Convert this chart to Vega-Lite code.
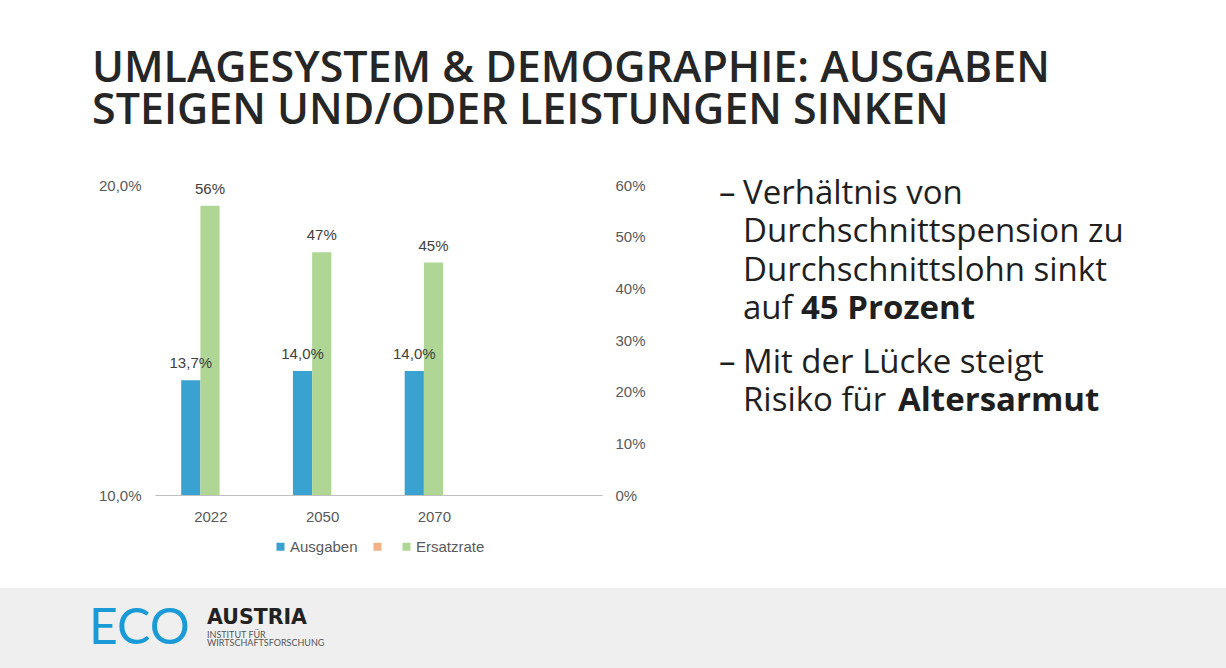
{
  "$schema": "https://vega.github.io/schema/vega-lite/v6.json",
  "background": "white",
  "padding": {"left": 0, "top": 48, "right": 0, "bottom": 0},
  "title": {
    "text": ["UMLAGESYSTEM & DEMOGRAPHIE: AUSGABEN", "STEIGEN UND/ODER LEISTUNGEN SINKEN"],
    "anchor": "start",
    "dx": 92,
    "font": "Open Sans",
    "fontSize": 43,
    "fontWeight": 600,
    "color": "#262626",
    "lineHeight": 42,
    "offset": 45
  },
  "config": {
    "view": {"stroke": null},
    "locale": {"number": {"decimal": ",", "thousands": ".", "grouping": [3], "currency": ["", " €"]}},
    "legend": {"layout": {"bottom": {"anchor": "middle"}}}
  },
  "resolve": {"scale": {"color": "independent"}, "legend": {"color": "independent"}},
  "spacing": 33,
  "vconcat": [
    {
      "spacing": 73,
      "resolve": {"scale": {"color": "independent"}, "legend": {"color": "independent"}},
      "hconcat": [
        {
          "width": 25,
          "height": 10,
          "data": {"values": [{"t": ""}]},
          "mark": {"type": "text"},
          "encoding": {"text": {"field": "t"}}
        },
        {
          "width": 447,
          "height": 310,
          "data": {"values": [
            {"year": "2022", "series": "Ausgaben", "value": 0.137},
            {"year": "2050", "series": "Ausgaben", "value": 0.14},
            {"year": "2070", "series": "Ausgaben", "value": 0.14},
            {"year": "2022", "series": "Ersatzrate", "value": 0.56},
            {"year": "2050", "series": "Ersatzrate", "value": 0.47},
            {"year": "2070", "series": "Ersatzrate", "value": 0.45}
          ]},
          "encoding": {
            "x": {
              "field": "year", "type": "nominal",
              "scale": {"domain": ["2022", "2050", "2070", " "], "paddingInner": 0, "paddingOuter": 0},
              "axis": {"title": null, "labelAngle": 0, "labelFont": "Liberation Sans", "labelFontSize": 15, "labelColor": "#595959", "ticks": false, "labelPadding": 14, "domainColor": "#bfbfbf", "domainWidth": 1, "grid": false}
            },
            "xOffset": {
              "field": "series", "type": "nominal",
              "scale": {"domain": ["d1", "Ausgaben", "Ersatzrate", "d2"], "paddingInner": 0, "paddingOuter": 0.91, "align": 0.2}
            }
          },
          "layer": [
            {
              "transform": [{"filter": "datum.series === 'Ausgaben'"}],
              "mark": {"type": "bar"},
              "encoding": {
                "y": {
                  "field": "value", "type": "quantitative",
                  "scale": {"domain": [0.1, 0.2], "zero": false},
                  "axis": {"title": null, "values": [0.1, 0.2], "format": ".1%", "grid": false, "domain": false, "ticks": false, "labelPadding": 14, "labelFont": "Liberation Sans", "labelFontSize": 15, "labelColor": "#595959"}
                },
                "y2": {"datum": 0.1},
                "color": {
                  "field": "series", "type": "nominal",
                  "scale": {"domain": ["Ausgaben", " ", "Ersatzrate"], "range": ["#3aa2d0", "#f4b183", "#b0d696"]},
                  "legend": {"title": null, "orient": "bottom", "direction": "horizontal", "symbolType": "square", "symbolSize": 64, "symbolStrokeWidth": 0, "labelFont": "Liberation Sans", "labelFontSize": 15, "labelColor": "#595959", "columnPadding": 12, "labelOffset": 2, "offset": 15}
                }
              }
            },
            {
              "transform": [{"filter": "datum.series === 'Ersatzrate'"}],
              "mark": {"type": "bar"},
              "encoding": {
                "y": {
                  "field": "value", "type": "quantitative",
                  "scale": {"domain": [0, 0.6]},
                  "axis": {"title": null, "orient": "right", "values": [0, 0.1, 0.2, 0.3, 0.4, 0.5, 0.6], "format": ".0%", "grid": false, "domain": false, "ticks": false, "labelPadding": 13, "labelFont": "Liberation Sans", "labelFontSize": 15, "labelColor": "#595959"}
                },
                "color": {"field": "series", "type": "nominal"}
              }
            },
            {
              "transform": [{"filter": "datum.series === 'Ausgaben'"}],
              "mark": {"type": "text", "baseline": "bottom", "dy": -9, "font": "Liberation Sans", "fontSize": 15, "color": "#404040"},
              "encoding": {
                "y": {"field": "value", "type": "quantitative", "scale": {"domain": [0.1, 0.2], "zero": false}, "axis": null},
                "text": {"field": "value", "type": "quantitative", "format": ".1%"}
              }
            },
            {
              "transform": [{"filter": "datum.series === 'Ersatzrate'"}],
              "mark": {"type": "text", "baseline": "bottom", "dy": -9, "font": "Liberation Sans", "fontSize": 15, "color": "#404040"},
              "encoding": {
                "y": {"field": "value", "type": "quantitative", "scale": {"domain": [0, 0.6]}, "axis": null},
                "text": {"field": "value", "type": "quantitative", "format": ".0%"}
              }
            }
          ],
          "resolve": {"scale": {"y": "independent"}}
        },
        {
          "spacing": 8,
          "vconcat": [
            {
              "width": 24,
              "height": 153.2,
              "encoding": {
                "x": {"field": "col", "type": "nominal", "scale": {"domain": ["dash", "text"], "type": "point", "padding": 0}, "axis": null},
                "y": {"field": "line", "type": "nominal", "scale": {"domain": ["l1", "l2", "l3", "l4"], "type": "point", "padding": 0.5}, "axis": null}
              },
              "layer": [
                {
                  "data": {"values": [
                    {"t": "–", "col": "dash", "line": "l1"},
                    {"t": "Verhältnis von", "col": "text", "line": "l1"},
                    {"t": "Durchschnittspension zu", "col": "text", "line": "l2"},
                    {"t": "Durchschnittslohn sinkt", "col": "text", "line": "l3"},
                    {"t": "auf", "col": "text", "line": "l4"}
                  ]},
                  "mark": {"type": "text", "align": "left", "baseline": "alphabetic", "font": "Open Sans", "fontSize": 33, "color": "#1f1f1f"},
                  "encoding": {"text": {"field": "t"}}
                },
                {
                  "data": {"values": [{"t": "45 Prozent", "col": "text", "line": "l4"}]},
                  "mark": {"type": "text", "align": "left", "baseline": "alphabetic", "font": "Open Sans", "fontSize": 33, "fontWeight": "bold", "color": "#1f1f1f", "dx": 58},
                  "encoding": {"text": {"field": "t"}}
                }
              ]
            },
            {
              "width": 24,
              "height": 38.3,
              "encoding": {
                "x": {"field": "col", "type": "nominal", "scale": {"domain": ["dash", "text"], "type": "point", "padding": 0}, "axis": null},
                "y": {"field": "line", "type": "nominal", "scale": {"domain": ["l5", "l6"], "type": "point", "padding": 0}, "axis": null}
              },
              "layer": [
                {
                  "data": {"values": [
                    {"t": "–", "col": "dash", "line": "l5"},
                    {"t": "Mit der Lücke steigt", "col": "text", "line": "l5"},
                    {"t": "Risiko für", "col": "text", "line": "l6"}
                  ]},
                  "mark": {"type": "text", "align": "left", "baseline": "alphabetic", "font": "Open Sans", "fontSize": 33, "color": "#1f1f1f"},
                  "encoding": {"text": {"field": "t"}}
                },
                {
                  "data": {"values": [{"t": "Altersarmut", "col": "text", "line": "l6"}]},
                  "mark": {"type": "text", "align": "left", "baseline": "alphabetic", "font": "Open Sans", "fontSize": 33, "fontWeight": "bold", "color": "#1f1f1f", "dx": 155},
                  "encoding": {"text": {"field": "t"}}
                }
              ]
            }
          ]
        }
      ]
    },
    {
      "width": 1226,
      "height": 81,
      "view": {"fill": "#efefef", "stroke": null},
      "encoding": {
        "x": {"field": "col", "type": "nominal", "scale": {"domain": ["eco", "brand", "f3", "f4", "f5", "f6", "f7", "f8", "f9", "f10"], "type": "point", "padding": 0.695, "align": 0.5427}, "axis": null}
      },
      "layer": [
        {
          "data": {"values": [{"t": "ECO", "col": "eco"}]},
          "mark": {"type": "text", "align": "left", "baseline": "alphabetic", "font": "Lato", "fontWeight": 400, "fontSize": 50, "color": "#1a9bd7", "dy": 15.5},
          "encoding": {"text": {"field": "t"}}
        },
        {
          "data": {"values": [{"t": "AUSTRIA", "col": "brand"}]},
          "mark": {"type": "text", "align": "left", "baseline": "alphabetic", "font": "DejaVu Sans", "fontWeight": "bold", "fontSize": 20.5, "color": "#222222", "dy": -4.5},
          "encoding": {"text": {"field": "t"}}
        },
        {
          "data": {"values": [{"t": "INSTITUT FÜR", "col": "brand"}]},
          "mark": {"type": "text", "align": "left", "baseline": "alphabetic", "font": "Lato", "fontSize": 9, "color": "#555555", "dy": 9.5},
          "encoding": {"text": {"field": "t"}}
        },
        {
          "data": {"values": [{"t": "WIRTSCHAFTSFORSCHUNG", "col": "brand"}]},
          "mark": {"type": "text", "align": "left", "baseline": "alphabetic", "font": "Lato", "fontSize": 9, "color": "#555555", "dy": 17.5},
          "encoding": {"text": {"field": "t"}}
        }
      ]
    }
  ]
}
